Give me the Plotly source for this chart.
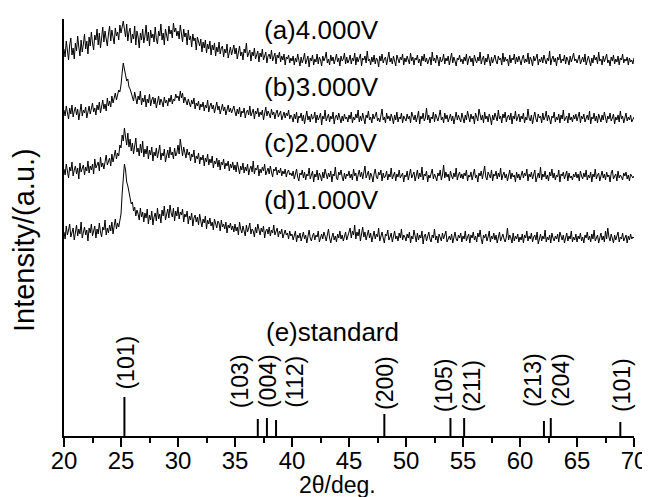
import numpy as np
import plotly.graph_objects as go

# 2-theta grid (deg), 0.1 deg steps from 20 to 70
two_theta = np.round(np.arange(0, 501) * 0.1 + 20.0, 1)

# intensities (a.u.), one value per 0.1 deg
int_4V = [
    18, 10, 26, 14, 7, 22, 29, 12, 19, 8, 24, 16, 31, 20, 11, 27, 15, 23, 33, 18,
    26, 13, 30, 21, 35, 24, 17, 32, 27, 38, 22, 34, 19, 29, 40, 25, 36, 28, 21, 33,
    41, 26, 37, 30, 23, 39, 31, 35, 27, 42,
    34, 40, 46, 38, 30, 43, 26, 35, 39, 24, 33, 28, 41, 22, 36, 30, 19, 34, 27, 38,
    24, 31, 42, 26, 35, 21, 37, 29, 33, 25, 40, 28, 23, 36, 31, 43, 27, 34, 22, 38,
    30, 26, 41, 33, 37, 29, 44, 35, 39, 31,
    36, 28, 42, 32, 25, 38, 30, 34, 22, 37, 27, 31, 20, 33, 26, 29, 17, 30, 24, 21,
    28, 15, 25, 19, 27, 14, 23, 18, 26, 12, 22, 17, 24, 11, 20, 15, 25, 13, 19, 21,
    10, 18, 14, 23, 9, 17, 20, 12, 16, 22,
    13, 19, 8, 16, 21, 11, 15, 7, 18, 14, 24, 10, 13, 17, 6, 15, 11, 19, 8, 12,
    16, 5, 14, 10, 18, 7, 12, 15, 4, 11, 13, 8, 17, 6, 10, 14, 3, 12, 9, 15,
    5, 11, 7, 13, 2, 10, 8, 12, 4, 9,
    6, 11, 2, 9, 5, 13, 7, 1, 10, 4, 8, 14, 3, 7, 11, 0, 9, 6, 12, 2,
    8, 5, 13, 3, 10, 7, 1, 11, 6, 9, 15, 4, 8, 2, 12, 6, 10, 3, 7, 13,
    5, 9, 1, 11, 6, 8, 14, 3, 10, 4,
    7, 12, 3, 9, 6, 14, 2, 10, 5, 8, 13, 1, 9, 7, 11, 4, 16, 6, 8, 2,
    10, 5, 12, 3, 9, 7, 0, 11, 6, 13, 4, 8, 10, 2, 7, 15, 5, 9, 3, 11,
    6, 1, 12, 8, 4, 10, 7, 13, 2, 9,
    5, 11, 8, 3, 14, 6, 10, 2, 9, 7, 12, 4, 8, 1, 11, 6, 13, 5, 9, 3,
    7, 10, 2, 15, 6, 9, 4, 12, 8, 1, 10, 5, 7, 13, 3, 9, 6, 11, 2, 8,
    14, 4, 10, 6, 1, 9, 7, 12, 5, 8,
    3, 10, 6, 13, 2, 8, 11, 5, 9, 1, 12, 7, 4, 10, 6, 15, 3, 8, 11, 2,
    9, 5, 13, 7, 1, 10, 4, 8, 12, 6, 3, 11, 7, 9, 2, 14, 5, 10, 6, 8,
    1, 12, 4, 9, 7, 13, 3, 10, 5, 11,
    6, 2, 9, 12, 4, 8, 5, 14, 3, 10, 7, 1, 11, 6, 9, 13, 2, 8, 5, 10,
    4, 12, 7, 3, 9, 6, 16, 2, 8, 11, 5, 9, 1, 10, 7, 13, 4, 8, 6, 12,
    3, 10, 7, 2, 11, 5, 9, 14, 6, 8,
    4, 9, 12, 3, 7, 10, 5, 13, 2, 8, 11, 6, 1, 9, 4, 12, 7, 10, 3, 15,
    6, 8, 2, 11, 5, 9, 13, 4, 7, 1, 10, 6, 12, 3, 8, 5, 11, 2, 9, 7,
    13, 4, 8, 6, 10, 2, 9, 5, 7, 3,
    9,
]
int_3V = [
    15, 9, 19, 12, 6, 17, 11, 20, 8, 14, 18, 10, 16, 5, 13, 21, 9, 15, 12, 18,
    7, 14, 19, 11, 16, 22, 13, 17, 10, 20, 15, 23, 12, 18, 25, 16, 21, 14, 27, 19,
    24, 18, 29, 22, 26, 32, 25, 30, 35, 33,
    40, 52, 62, 56, 50, 44, 46, 38, 36, 32, 30, 24, 33, 27, 21, 29, 25, 34, 20, 27,
    23, 30, 18, 26, 22, 31, 19, 25, 28, 21, 27, 17, 24, 29, 20, 26, 23, 18, 28, 22,
    25, 19, 27, 23, 30, 21, 26, 24, 31, 27,
    29, 24, 34, 27, 32, 22, 28, 25, 20, 26, 23, 18, 25, 21, 27, 16, 22, 19, 24, 15,
    21, 18, 23, 14, 20, 17, 25, 13, 19, 22, 16, 20, 12, 18, 23, 15, 19, 11, 17, 21,
    14, 18, 10, 16, 20, 13, 17, 12, 15, 19,
    13, 9, 16, 11, 18, 8, 14, 12, 17, 7, 13, 15, 10, 19, 9, 12, 16, 6, 14, 11,
    17, 8, 13, 10, 15, 5, 12, 18, 9, 14, 11, 7, 16, 10, 13, 6, 12, 15, 8, 11,
    14, 5, 10, 13, 7, 12, 9, 15, 6, 10,
    8, 3, 11, 6, 13, 2, 9, 7, 12, 4, 10, 1, 8, 14, 5, 9, 3, 11, 6, 7,
    13, 2, 10, 5, 8, 12, 0, 9, 6, 15, 4, 7, 11, 3, 9, 6, 13, 1, 8, 10,
    5, 12, 7, 2, 9, 4, 11, 6, 8, 3,
    10, 6, 13, 2, 8, 5, 11, 7, 15, 3, 9, 4, 12, 6, 1, 10, 7, 14, 5, 8,
    2, 11, 6, 9, 13, 4, 7, 3, 10, 16, 5, 8, 2, 12, 6, 9, 4, 11, 7, 1,
    10, 5, 13, 3, 8, 6, 12, 2, 9, 7,
    4, 11, 6, 9, 2, 13, 7, 5, 10, 3, 8, 14, 1, 9, 6, 12, 4, 7, 17, 5,
    10, 2, 8, 6, 13, 3, 11, 7, 4, 9, 15, 5, 8, 2, 12, 6, 10, 3, 7, 11,
    4, 9, 1, 8, 13, 5, 10, 6, 3, 12,
    7, 2, 10, 5, 14, 8, 3, 11, 6, 9, 1, 12, 7, 4, 16, 8, 5, 10, 2, 13,
    6, 9, 3, 11, 7, 0, 10, 5, 12, 8, 4, 15, 6, 9, 2, 11, 7, 13, 3, 8,
    10, 5, 12, 1, 9, 6, 14, 4, 7, 11,
    3, 9, 6, 12, 2, 8, 5, 16, 7, 4, 10, 1, 8, 13, 6, 3, 11, 7, 9, 2,
    12, 5, 8, 14, 4, 10, 6, 1, 9, 7, 13, 3, 8, 5, 11, 2, 10, 6, 15, 4,
    7, 9, 2, 12, 5, 8, 3, 10, 6, 11,
    4, 8, 13, 2, 9, 6, 11, 3, 7, 10, 5, 14, 1, 8, 6, 12, 4, 9, 2, 11,
    7, 3, 10, 5, 13, 8, 2, 9, 6, 12, 4, 7, 11, 1, 8, 5, 10, 3, 14, 6,
    9, 2, 7, 12, 4, 8, 5, 10, 3, 6,
    8,
]
int_2V = [
    14, 8, 19, 11, 5, 16, 12, 21, 7, 13, 17, 9, 15, 4, 20, 11, 14, 18, 8, 16,
    12, 22, 10, 17, 13, 19, 9, 24, 15, 18, 21, 12, 26, 16, 20, 14, 23, 28, 18, 22,
    25, 17, 29, 21, 26, 33, 24, 30, 27, 38,
    35, 48, 42, 55, 46, 38, 50, 36, 44, 32, 40, 29, 37, 45, 31, 35, 27, 39, 30, 42,
    26, 34, 29, 37, 24, 33, 28, 36, 22, 31, 27, 35, 25, 32, 38, 23, 30, 27, 34, 21,
    29, 33, 25, 36, 28, 31, 24, 35, 27, 30,
    38, 29, 44, 33, 27, 36, 30, 25, 34, 28, 31, 22, 29, 26, 33, 20, 27, 24, 30, 19,
    26, 23, 28, 17, 25, 21, 29, 18, 24, 20, 27, 15, 22, 19, 25, 16, 23, 13, 21, 18,
    24, 14, 20, 17, 22, 12, 19, 15, 21, 13,
    18, 11, 21, 15, 9, 17, 13, 20, 10, 16, 12, 19, 8, 14, 17, 11, 22, 9, 15, 13,
    18, 7, 14, 10, 16, 12, 19, 8, 13, 15, 9, 17, 11, 6, 14, 12, 16, 8, 13, 10,
    15, 7, 12, 9, 14, 6, 11, 13, 8, 10,
    7, 12, 4, 9, 14, 6, 2, 10, 8, 13, 5, 11, 3, 9, 7, 15, 4, 8, 12, 1,
    9, 6, 13, 3, 10, 7, 2, 11, 5, 14, 8, 4, 10, 6, 12, 1, 9, 7, 16, 5,
    3, 11, 8, 13, 6, 2, 10, 4, 9, 7,
    12, 5, 9, 3, 14, 7, 10, 2, 8, 13, 6, 11, 4, 9, 17, 5, 8, 12, 3, 10,
    7, 1, 9, 14, 6, 4, 11, 8, 13, 2, 10, 5, 7, 12, 3, 9, 6, 15, 4, 8,
    11, 2, 9, 6, 13, 5, 7, 10, 1, 8,
    6, 12, 3, 9, 14, 5, 8, 11, 2, 7, 13, 4, 10, 6, 16, 3, 9, 7, 12, 1,
    8, 5, 11, 14, 4, 9, 6, 2, 10, 7, 13, 3, 8, 18, 5, 11, 6, 9, 2, 12,
    7, 4, 10, 6, 15, 3, 8, 11, 5, 9,
    4, 10, 7, 13, 2, 8, 6, 11, 3, 9, 14, 5, 8, 1, 10, 7, 12, 4, 9, 17,
    6, 3, 11, 8, 5, 13, 2, 9, 7, 12, 4, 10, 6, 15, 3, 8, 11, 5, 9, 2,
    7, 13, 4, 10, 6, 8, 1, 11, 5, 9,
    3, 8, 12, 5, 10, 7, 14, 2, 9, 6, 11, 4, 8, 13, 1, 7, 10, 5, 16, 3,
    9, 6, 12, 4, 8, 2, 11, 7, 14, 5, 10, 3, 8, 6, 13, 1, 9, 7, 11, 4,
    8, 12, 2, 10, 5, 7, 3, 9, 6, 11,
    5, 9, 2, 12, 7, 4, 10, 6, 13, 3, 8, 5, 11, 1, 9, 6, 14, 4, 8, 10,
    2, 7, 12, 5, 9, 3, 11, 6, 8, 1, 10, 13, 4, 7, 9, 2, 12, 5, 8, 6,
    3, 10, 7, 11, 4, 8, 2, 9, 6, 5,
    7,
]
int_1V = [
    12, 5, 18, 9, 14, 20, 7, 11, 16, 4, 13, 19, 8, 15, 10, 22, 6, 12, 17, 9,
    14, 3, 16, 11, 20, 8, 13, 18, 6, 15, 10, 21, 12, 7, 17, 14, 24, 9, 16, 11,
    19, 13, 22, 10, 18, 25, 15, 21, 17, 26,
    30, 50, 68, 80, 74, 62, 58, 50, 46, 40, 42, 33, 37, 28, 34, 30, 24, 36, 27, 32,
    22, 31, 26, 35, 20, 29, 24, 33, 19, 27, 31, 23, 36, 25, 30, 21, 34, 28, 38, 24,
    29, 35, 26, 39, 31, 27, 36, 23, 33, 28,
    37, 25, 32, 29, 35, 22, 30, 27, 33, 20, 28, 24, 31, 18, 26, 29, 22, 27, 19, 30,
    23, 17, 25, 21, 28, 15, 24, 20, 26, 18, 22, 14, 25, 19, 16, 23, 21, 13, 24, 17,
    20, 15, 22, 11, 19, 16, 21, 14, 18, 12,
    20, 13, 17, 9, 22, 15, 11, 18, 14, 8, 19, 12, 16, 21, 10, 15, 13, 7, 17, 11,
    20, 14, 9, 16, 12, 18, 6, 13, 15, 10, 17, 8, 14, 11, 19, 9, 12, 16, 7, 13,
    10, 15, 6, 12, 14, 9, 11, 5, 13, 8,
    10, 4, 8, 13, 2, 9, 6, 11, 3, 7, 12, 5, 9, 1, 10, 14, 6, 3, 8, 11,
    4, 9, 7, 13, 2, 6, 10, 5, 12, 8, 3, 9, 15, 6, 1, 7, 11, 4, 8, 2,
    10, 6, 13, 5, 9, 3, 7, 12, 4, 8,
    11, 16, 6, 13, 9, 19, 5, 12, 8, 15, 3, 10, 17, 7, 12, 4, 9, 14, 6, 11,
    2, 8, 13, 5, 10, 7, 16, 3, 9, 12, 6, 1, 10, 8, 14, 4, 7, 11, 2, 9,
    13, 5, 8, 3, 11, 6, 15, 4, 9, 7,
    3, 10, 6, 12, 1, 8, 5, 14, 7, 2, 11, 4, 9, 6, 13, 0, 8, 10, 3, 7,
    12, 5, 2, 9, 6, 15, 4, 8, 1, 10, 7, 3, 11, 5, 9, 13, 2, 6, 8, 4,
    10, 1, 7, 12, 5, 3, 9, 6, 11, 2,
    8, 5, 13, 3, 7, 10, 1, 9, 6, 12, 4, 8, 2, 11, 7, 14, 5, 0, 9, 6,
    10, 3, 7, 13, 2, 8, 5, 11, 4, 9, 1, 6, 12, 3, 8, 10, 5, 2, 7, 16,
    4, 9, 6, 1, 11, 3, 8, 5, 10, 2,
    7, 4, 10, 1, 9, 6, 13, 3, 8, 5, 11, 2, 7, 9, 4, 12, 0, 6, 10, 3,
    8, 5, 14, 2, 7, 4, 9, 1, 11, 6, 3, 8, 5, 10, 2, 12, 7, 4, 9, 1,
    6, 11, 3, 8, 5, 13, 2, 7, 4, 10,
    2, 8, 5, 11, 3, 7, 1, 9, 6, 12, 4, 8, 2, 10, 5, 14, 3, 7, 9, 1,
    6, 11, 4, 8, 2, 13, 5, 16, 7, 3, 10, 6, 1, 9, 4, 8, 12, 2, 7, 5,
    11, 3, 6, 9, 1, 8, 4, 10, 5, 7,
    6,
]
series_names = ["(a)4.000V", "(b)3.000V", "(c)2.000V", "(d)1.000V"]

# standard pattern (e)
std_pos = [25.3, 37.0, 37.8, 38.6, 48.1, 53.9, 55.1, 62.1, 62.7, 68.8]
std_int = [39, 17, 18, 16, 22, 18, 18, 15, 18, 14]
std_hkl = ["(101)", "(103)", "(004)", "(112)", "(200)", "(105)", "(211)", "(213)", "(204)", "(101)"]

# layout constants (vertical stacking offsets and label placement)
offsets = [369, 311, 253, 192]
name_label_y = [406, 349, 293, 236]
name_label_x = 37.35
hkl_label_x = [25.4, 35.45, 37.9, 40.25, 48.15, 53.35, 55.8, 61.15, 63.6, 68.95]
hkl_label_y = [44, 26, 26, 26, 24, 22, 22, 27, 27, 22]

FONT = "Liberation Sans, Arial, sans-serif"
fig = go.Figure()

for vals, off in zip([int_4V, int_3V, int_2V, int_1V], offsets):
    n = min(len(vals), len(two_theta))
    fig.add_trace(go.Scatter(
        x=two_theta[:n], y=np.array(vals[:n]) + off, mode="lines",
        line=dict(color="black", width=1), showlegend=False, hoverinfo="skip"))

sx, sy = [], []
for p, h in zip(std_pos, std_int):
    sx += [p, p, None]
    sy += [0, h, None]
fig.add_trace(go.Scatter(x=sx, y=sy, mode="lines",
                         line=dict(color="black", width=2), showlegend=False))

for name, ly in zip(series_names, name_label_y):
    fig.add_annotation(x=name_label_x, y=ly, text=name, showarrow=False,
                       xanchor="left", yanchor="middle", font=dict(size=26, color="black"))
fig.add_annotation(x=37.55, y=104, text="(e)standard", showarrow=False,
                   xanchor="left", yanchor="middle", font=dict(size=26, color="black"))
for t, lx, ly in zip(std_hkl, hkl_label_x, hkl_label_y):
    fig.add_annotation(x=lx, y=ly, text=t, showarrow=False, textangle=-90,
                       xanchor="center", yanchor="bottom", font=dict(size=23, color="black"))

# axis titles
fig.add_annotation(xref="paper", yref="paper", x=-40 / 570, y=0.47,
                   text="Intensity/(a.u.)", textangle=-90, showarrow=False,
                   xanchor="center", yanchor="middle", font=dict(size=29, color="black"))
fig.add_annotation(xref="paper", yref="paper", x=0.48, y=-49 / 417,
                   text="2θ/deg.", showarrow=False, borderpad=0,
                   xanchor="center", yanchor="middle", font=dict(size=23, color="black"))

# page has an 8 px body margin, so the figure is sized to fit inside it
fig.update_layout(
    width=642, height=489,
    margin=dict(l=56, r=16, t=11, b=61),
    paper_bgcolor="white", plot_bgcolor="white",
    font=dict(family=FONT, size=24, color="black"),
    xaxis=dict(range=[20, 70], showgrid=False, zeroline=False, automargin=False,
               showline=True, linecolor="black", linewidth=2,
               ticks="outside", tickcolor="black", tickwidth=2, ticklen=9,
               tick0=20, dtick=5, tickfont=dict(size=24), ticklabelstandoff=-7,
               minor=dict(ticks="outside", dtick=2.5, ticklen=5, tickwidth=2, tickcolor="black")),
    yaxis=dict(range=[0, 417], showgrid=False, zeroline=False, automargin=False,
               showline=True, linecolor="black", linewidth=2,
               ticks="", showticklabels=False),
)

fig.write_html("out.html")
